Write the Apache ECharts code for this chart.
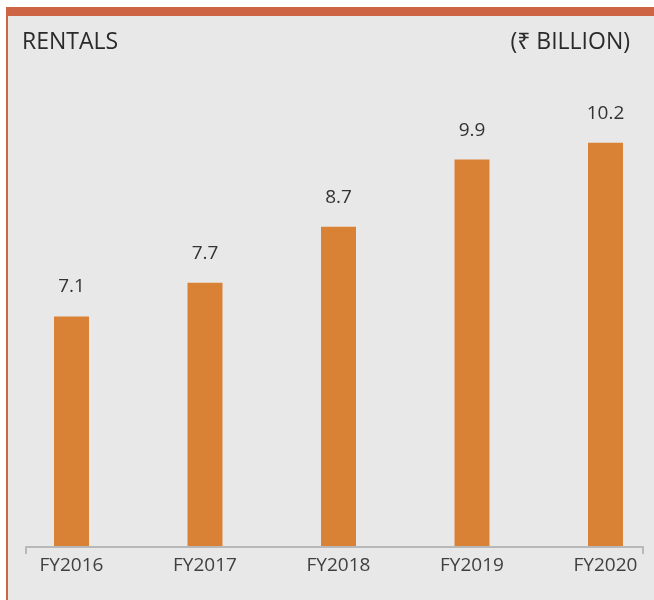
<!DOCTYPE html>
<html>
<head>
<meta charset="utf-8">
<script src="https://cdn.jsdelivr.net/npm/echarts@6/dist/echarts.min.js"></script>
<style>html,body{margin:0;padding:0;background:#fff;}#c{width:654px;height:600px;}</style>
</head>
<body>
<div id="c"></div>
<script>
const categories = ['FY2016', 'FY2017', 'FY2018', 'FY2019', 'FY2020'];
const rentals = [7.1, 7.7, 8.7, 9.9, 10.2];
const titleText = 'RENTALS';
const unitText = '(\u20B9 BILLION)';

const FONT = '"Open Sans", "Noto Sans", "DejaVu Sans", sans-serif';
const chart = echarts.init(document.getElementById('c'), null, {renderer: 'canvas'});
chart.setOption({
  backgroundColor: '#ffffff',
  animation: false,
  graphic: [
    {type: 'rect', z: -10, shape: {x: 6, y: 7, width: 648, height: 593}, style: {fill: '#CD6443'}},
    {type: 'rect', z: -9, shape: {x: 8, y: 16, width: 646, height: 584}, style: {fill: '#E8E8E8'}}
  ],
  title: [
    {text: titleText, left: 17, top: 26, textStyle: {fontFamily: FONT, fontSize: 23, fontWeight: 'normal', color: '#2a2a2a'}},
    {text: unitText, right: 19, top: 26, textStyle: {fontFamily: FONT, fontSize: 23, fontWeight: 'normal', color: '#2a2a2a'}}
  ],
  grid: [
    {left: 4.75, width: 667.5, top: 98, bottom: 54, outerBoundsMode: 'none', containLabel: false},
    {left: 26, right: 11, top: 98, bottom: 53, outerBoundsMode: 'none', containLabel: false}
  ],
  xAxis: [
    {
      gridIndex: 0, type: 'category', data: categories, boundaryGap: true,
      axisLine: {show: false}, axisTick: {show: false},
      axisLabel: {margin: 10, fontFamily: FONT, fontSize: 19, color: '#404040'}
    },
    {
      gridIndex: 1, type: 'category', data: [''], boundaryGap: true,
      axisLine: {show: true, lineStyle: {color: '#B8B8B8', width: 2}},
      axisTick: {show: true, length: 7, alignWithLabel: false, lineStyle: {color: '#B8B8B8', width: 2}},
      axisLabel: {show: false}
    }
  ],
  yAxis: [
    {gridIndex: 0, type: 'value', min: 3, max: 11, show: false, splitLine: {show: false}},
    {gridIndex: 1, type: 'value', min: 0, max: 1, show: false, splitLine: {show: false}}
  ],
  series: [
    {
      type: 'bar', xAxisIndex: 0, yAxisIndex: 0, data: rentals, barWidth: 35,
      itemStyle: {color: '#D98236'},
      label: {show: true, position: 'top', distance: 20, fontFamily: FONT, fontSize: 19, color: '#333333'}
    }
  ]
});
</script>
</body>
</html>
